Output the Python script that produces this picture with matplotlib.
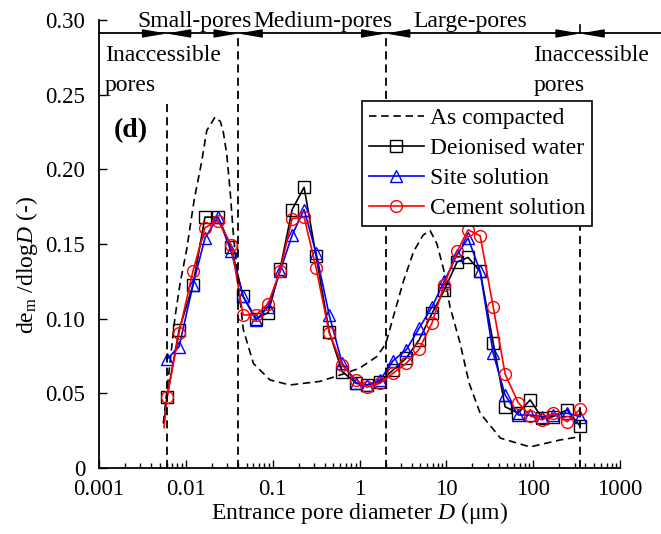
import numpy as np
import matplotlib
matplotlib.use("Agg")
import matplotlib.pyplot as plt

plt.rcParams['font.family'] = ['Liberation Serif', 'DejaVu Serif']
plt.rcParams['mathtext.fontset'] = 'custom'
plt.rcParams['mathtext.rm'] = 'Liberation Serif'
plt.rcParams['mathtext.it'] = 'Liberation Serif:italic'

# Entrance pore diameter (um) shared by the MIP curves
diameter = [0.00607, 0.00836, 0.0121, 0.0166, 0.0235, 0.0332, 0.0456, 0.0644, 0.0885,
            0.1216, 0.1674, 0.230, 0.316, 0.447, 0.631, 0.914, 1.224, 1.727, 2.438,
            3.44, 4.86, 6.86, 9.44, 13.3, 17.8, 24.5, 34.6, 47.5, 67.1, 92.3, 127,
            170, 246, 347]
deionised = [0.0474, 0.0925, 0.1227, 0.168, 0.168, 0.148, 0.115, 0.100, 0.104,
             0.133, 0.173, 0.188, 0.142, 0.0914, 0.0646, 0.0568, 0.0556, 0.0578, 0.0657,
             0.0735, 0.0858, 0.1037, 0.119, 0.138, 0.141, 0.1316, 0.084, 0.041, 0.0367,
             0.0456, 0.0333, 0.0344, 0.0389, 0.0281]
site = [0.0729, 0.0813, 0.1227, 0.154, 0.168, 0.145, 0.115, 0.099, 0.108,
        0.1316, 0.156, 0.173, 0.144, 0.1025, 0.0702, 0.0568, 0.0556, 0.059, 0.0719,
        0.079, 0.0936, 0.108, 0.125, 0.1428, 0.154, 0.1316, 0.0769, 0.0489, 0.0355,
        0.0355, 0.0344, 0.0355, 0.0367, 0.0344]
cement = [0.0474, 0.0907, 0.132, 0.161, 0.1655, 0.1495, 0.1025, 0.1025, 0.110,
          0.132, 0.167, 0.168, 0.134, 0.0907, 0.069, 0.059, 0.054, 0.0568, 0.0635,
          0.070, 0.0796, 0.0974, 0.1227, 0.145, 0.1595, 0.1555, 0.108, 0.063, 0.0438,
          0.0349, 0.0322, 0.0367, 0.031, 0.0394]
# lines run a little below the first marker
tail_d = 0.0056
tail_dw = 0.030
tail_cs = 0.027

# As compacted
comp_d = [0.0055, 0.0065, 0.0075, 0.0086, 0.0102, 0.0125, 0.0152, 0.0174, 0.0217, 0.025,
          0.027, 0.0296, 0.0323, 0.0352, 0.040, 0.046, 0.06, 0.093, 0.158, 0.35, 0.6,
          1.0, 1.58, 2.0, 2.5, 3.2, 4.2, 5.4, 6.5, 7.8, 9.3, 11, 14.4, 18.3, 24.5, 42,
          92, 205, 347]
comp_v = [0.030, 0.068, 0.101, 0.124, 0.146, 0.18, 0.205, 0.226, 0.235, 0.232,
          0.225, 0.21, 0.186, 0.157, 0.124, 0.0925, 0.070, 0.059, 0.0556, 0.058, 0.0623,
          0.0668, 0.0746, 0.083, 0.103, 0.125, 0.145, 0.156, 0.159, 0.150, 0.133, 0.108,
          0.0836, 0.0568, 0.0367, 0.020, 0.0141, 0.0188, 0.021]

# pore class boundaries (um)
bounds = [0.006, 0.04, 2, 347]
bound_tops = [0.247, 0.291, 0.291, 0.247]
xtick_vals = [0.001, 0.01, 0.1, 1, 10, 100, 1000]
xtick_labels = ['0.001', '0.01', '0.1', '1', '10', '100', '1000']
ytick_vals = [0, 0.05, 0.10, 0.15, 0.20, 0.25, 0.30]
ytick_labels = ['0', '0.05', '0.10', '0.15', '0.20', '0.25', '0.30']

fig = plt.figure(figsize=(6.61, 5.34), dpi=100)
ax = fig.add_axes([0.1498, 0.1236, 0.7882, 0.8389])

dash = (0, (4.5, 2.8))
ax.plot(comp_d, comp_v, color='k', lw=1.2, ls=dash, label='As compacted')
ax.plot([tail_d, diameter[0]], [tail_dw, deionised[0]], color='k', lw=1.2)
ax.plot(diameter, deionised, color='k', lw=1.2, marker='s', ms=8, mfc='none',
        mew=1.0, label='Deionised water')
ax.plot(diameter, site, color='#0000ff', lw=1.2, marker='^', ms=9, mfc='none',
        mew=1.0, label='Site solution')
ax.plot([tail_d, diameter[0]], [tail_cs, cement[0]], color='#ff0000', lw=1.2)
ax.plot(diameter, cement, color='#ff0000', lw=1.2, marker='o', ms=8.5, mfc='none',
        mew=1.0, label='Cement solution')

for b, t in zip(bounds, bound_tops):
    ax.plot([b, b], [0, t], color='k', lw=1.3, ls=dash)

# pore class bar on top
ya = 0.291
ax.plot([0.001, 3000], [ya, ya], color='k', lw=1.3, clip_on=False)
ax.plot([347, 347], [ya, 0.297], color='k', lw=1.2, clip_on=False)
for b in bounds:
    for s in (-1, 1):
        ax.annotate('', xy=(b, ya), xytext=(b * 10 ** (0.25 * s), ya),
                    annotation_clip=False,
                    arrowprops=dict(arrowstyle='-|>,head_length=0.8,head_width=0.14',
                                    color='k', lw=1.0, shrinkA=0, shrinkB=0,
                                    mutation_scale=18))

fs = 17
ax.text(0.0126, 0.295, 'Small-pores', ha='center', va='baseline', fontsize=fs)
ax.text(0.381, 0.295, 'Medium-pores', ha='center', va='baseline', fontsize=fs)
ax.text(18.8, 0.295, 'Large-pores', ha='center', va='baseline', fontsize=fs)
ax.text(0.00117, 0.2728, 'Inaccessible', ha='left', va='baseline', fontsize=fs)
ax.text(0.00117, 0.2522, 'pores', ha='left', va='baseline', fontsize=fs)
ax.text(100, 0.2728, 'Inaccessible', ha='left', va='baseline', fontsize=fs)
ax.text(100, 0.2522, 'pores', ha='left', va='baseline', fontsize=fs)
ax.text(0.00234, 0.226, '(d)', ha='center', va='center', fontsize=20, fontweight='bold')

ax.set_xscale('log')
ax.set_xlim(0.001, 1000)
ax.set_ylim(0, 0.30)
ax.set_xticks(xtick_vals)
ax.set_xticklabels(xtick_labels)
ax.set_yticks(ytick_vals)
ax.set_yticklabels(ytick_labels)
ax.tick_params(which='major', direction='in', length=6, width=1.0, labelsize=16.5)
ax.tick_params(axis='x', which='major', pad=8)
ax.tick_params(axis='y', which='major', pad=10)
ax.tick_params(which='minor', direction='in', length=3.5, width=1.0)

ax.spines['top'].set_visible(False)
ax.spines['right'].set_visible(False)
ax.spines['left'].set_linewidth(1.3)
ax.spines['bottom'].set_linewidth(1.3)

ax.set_xlabel('Entrance pore diameter $D$ (\u03bcm)', fontsize=fs, labelpad=0)
ax.set_ylabel(r'd$\mathrm{e}_{\mathrm{m}}$ /dlog$D$ (-)', fontsize=fs)
ax.yaxis.set_label_coords(-0.113, 0.453)

leg = ax.legend(loc='upper left', bbox_to_anchor=(0.505, 0.819), borderaxespad=0,
                fontsize=fs, frameon=True, fancybox=False, framealpha=1,
                edgecolor='k', handlelength=2.35, handletextpad=0.25,
                borderpad=0.28, labelspacing=0.36)
leg.get_frame().set_linewidth(1.2)

fig.savefig('out.png', dpi=100)
